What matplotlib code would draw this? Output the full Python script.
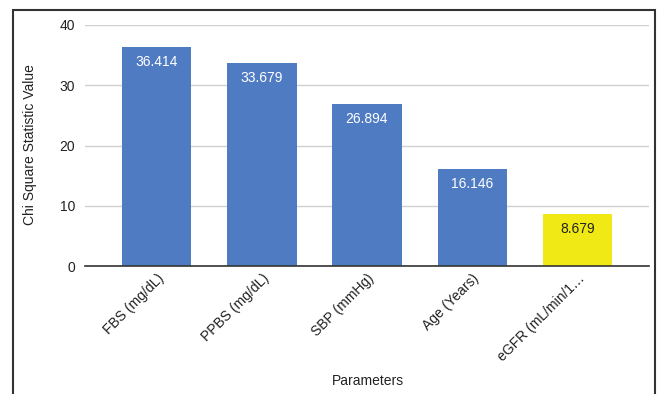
import matplotlib.pyplot as plt
from matplotlib.patches import Rectangle

plt.rcParams['font.family'] = ['Liberation Sans', 'DejaVu Sans']

# data
parameters = ['FBS (mg/dL)', 'PPBS (mg/dL)', 'SBP (mmHg)', 'Age (Years)', 'eGFR (mL/min/1…']
chi_square = [36.414, 33.679, 26.894, 16.146, 8.679]
bar_colors = ['#4f7bc3', '#4f7bc3', '#4f7bc3', '#4f7bc3', '#f1e916']
label_colors = ['white', 'white', 'white', 'white', '#222222']

W, H = 661, 394
fig = plt.figure(figsize=(W / 100, H / 100), dpi=100)
ax = fig.add_axes([85 / W, (H - 266) / H, (649 - 85) / W, (266 - 25) / H])

x = list(range(len(parameters)))
bars = ax.bar(x, chi_square, width=0.66, color=bar_colors, zorder=3)

for b, v, c in zip(bars, chi_square, label_colors):
    ax.annotate(f'{v:.3f}', xy=(b.get_x() + b.get_width() / 2, v),
                xytext=(0, -6), textcoords='offset points',
                ha='center', va='top', fontsize=10, color=c, zorder=4)

ax.set_xlim(-0.68, 4.68)
ax.set_ylim(0, 40)
ax.set_yticks([0, 10, 20, 30, 40])
ax.grid(axis='y', color='#d0d0d0', linewidth=1, zorder=0)
ax.tick_params(axis='y', length=0, pad=7, labelsize=10, labelcolor='#222222')
ax.tick_params(axis='x', length=0, pad=4, labelsize=10, labelcolor='#222222')
ax.set_xticks(x)
ax.set_xticklabels(parameters, rotation=45, ha='right', rotation_mode='anchor')

for s in ['top', 'right', 'left']:
    ax.spines[s].set_visible(False)
ax.spines['bottom'].set_color('#333333')
ax.spines['bottom'].set_linewidth(1.2)
ax.spines['bottom'].set_zorder(5)

fig.text(30 / W, 1 - 145 / H, 'Chi Square Statistic Value', rotation=90,
         ha='center', va='center', fontsize=10, color='#222222')
fig.text(368 / W, 1 - 381 / H, 'Parameters', ha='center', va='center',
         fontsize=10, color='#222222')

# outer frame around the chart
fig.patches.append(Rectangle((13 / W, -0.1), (655 - 13) / W, 1.1 - 10 / H,
                             transform=fig.transFigure, fill=False,
                             edgecolor='#333333', linewidth=1.5))

fig.savefig('out.png', dpi=100)
